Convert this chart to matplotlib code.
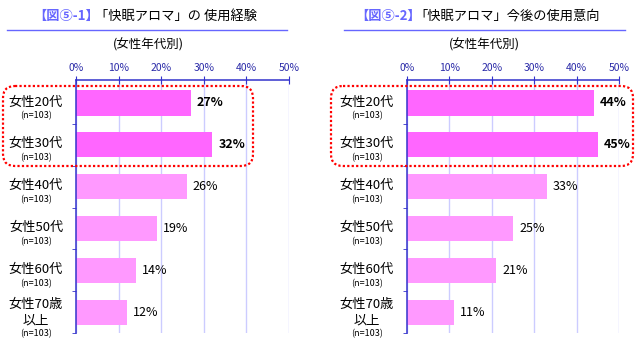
import matplotlib
matplotlib.use("Agg")
import matplotlib.pyplot as plt
from matplotlib.patches import FancyBboxPatch
from matplotlib.transforms import blended_transform_factory, offset_copy

plt.rcParams['font.family'] = ['Noto Sans CJK JP', 'DejaVu Sans']

categories = ["女性20代", "女性30代", "女性40代", "女性50代", "女性60代", "女性70歳\n以上"]
n_labels = ["(n=103)"] * 6
exp_values = [27, 32, 26, 19, 14, 12]
intent_values = [44, 45, 33, 25, 21, 11]
highlight = [True, True, False, False, False, False]
xticks = [0, 10, 20, 30, 40, 50]
xtick_labels = ["0%", "10%", "20%", "30%", "40%", "50%"]

title_tags = ["【図⑤-1】", "【図⑤-2】"]
titles = ["「快眠アロマ」の 使用経験", "「快眠アロマ」今後の使用意向"]
subtitle = "(女性年代別)"

W, H = 637, 348
fig = plt.figure(figsize=(W / 100, H / 100), dpi=100)

BLUE = "#3333CC"
GRID = "#CCCCFF"
HI = "#FF66FF"
LO = "#FF99FF"
TBLUE = "#6666FF"

def px_axes(x0, x1, ytop, ybot):
    return [x0 / W, 1 - ybot / H, (x1 - x0) / W, (ybot - ytop) / H]

panels = [
    dict(vals=exp_values, ax=(76, 289, 80, 333)),
    dict(vals=intent_values, ax=(407, 619, 80, 333)),
]

for p in panels:
    x0, x1, yt, yb = p["ax"]
    ax = fig.add_axes(px_axes(x0, x1, yt, yb))
    vals = p["vals"]
    ypos = list(range(len(categories)))
    colors = [HI if h else LO for h in highlight]
    ax.barh(ypos, vals, height=0.6, color=colors, zorder=3)
    ax.set_xlim(0, 50)
    ax.set_ylim(5.5, -0.55)
    ax.xaxis.tick_top()
    ax.set_xticks(xticks)
    ax.set_xticklabels(xtick_labels, fontsize=7.5, color="#2B2BA8")
    ax.tick_params(axis='x', direction='inout', length=6, color=BLUE, pad=2)
    ax.set_yticks([])
    ax.set_yticks([0.5, 1.5, 2.5, 3.5, 4.5, 5.5], minor=True)
    ax.tick_params(axis='y', which='minor', direction='out', length=3, color=BLUE)
    ax.grid(axis='x', color=GRID, lw=1, zorder=0)
    for s in ['bottom', 'right']:
        ax.spines[s].set_visible(False)
    for s in ['top', 'left']:
        ax.spines[s].set_color(BLUE)
        ax.spines[s].set_linewidth(1.1)
        ax.spines[s].set_zorder(4)
    trans_lab = blended_transform_factory(ax.transAxes, ax.transData)
    labx = -40 / (x1 - x0)
    for i, (c, n) in enumerate(zip(categories, n_labels)):
        if "\n" in c:
            l1, l2 = c.split("\n")
            ax.text(labx, i, l1, transform=offset_copy(trans_lab, fig, y=8, units='dots'),
                    ha='center', va='center', fontsize=9.5)
            ax.text(labx, i, l2, transform=offset_copy(trans_lab, fig, y=-9, units='dots'),
                    ha='center', va='center', fontsize=9.5)
            ax.text(labx, i, n, transform=offset_copy(trans_lab, fig, y=-22, units='dots'),
                    ha='center', va='center', fontsize=6.5)
        else:
            ax.text(labx, i, c, transform=offset_copy(trans_lab, fig, y=1, units='dots'),
                    ha='center', va='center', fontsize=9.5)
            ax.text(labx, i, n, transform=offset_copy(trans_lab, fig, y=-13, units='dots'),
                    ha='center', va='center', fontsize=6.5)
    for i, v in enumerate(vals):
        ax.text(v, i, f"{v}%", transform=offset_copy(ax.transData, fig, x=6, units='dots'),
                ha='left', va='center', fontsize=9,
                fontweight='bold' if highlight[i] else 'normal', color='black')

# overlay in pixel coordinates
ov = fig.add_axes([0, 0, 1, 1], zorder=10)
ov.set_xlim(0, W)
ov.set_ylim(H, 0)
ov.axis('off')
ov.patch.set_alpha(0)

# titles
ov.text(33, 16, title_tags[0], color=TBLUE, fontsize=9.5, fontweight='bold', ha='left', va='center')
ov.text(95, 16, titles[0], color='black', fontsize=9.5, ha='left', va='center')
ov.plot([7, 287], [30, 30], color=TBLUE, lw=1.0)
ov.text(148, 45, subtitle, fontsize=9, ha='center', va='center')

ov.text(355, 16, title_tags[1], color=TBLUE, fontsize=9.5, fontweight='bold', ha='left', va='center')
ov.text(414, 16, titles[1], color='black', fontsize=9.5, ha='left', va='center')
ov.plot([344, 625], [30, 30], color=TBLUE, lw=1.0)
ov.text(484, 45, subtitle, fontsize=9, ha='center', va='center')

# red dotted highlight boxes
for (bx0, bx1) in [(3, 253), (331, 633)]:
    r = 12
    box = FancyBboxPatch((bx0 + r, 86 + r), (bx1 - bx0) - 2 * r, (166 - 86) - 2 * r,
                         boxstyle=f"round,pad={r}", fill=False, edgecolor='#FF0000',
                         linestyle=(0, (1, 1)), lw=1.6)
    ov.add_patch(box)

fig.savefig("out.png", dpi=100)
